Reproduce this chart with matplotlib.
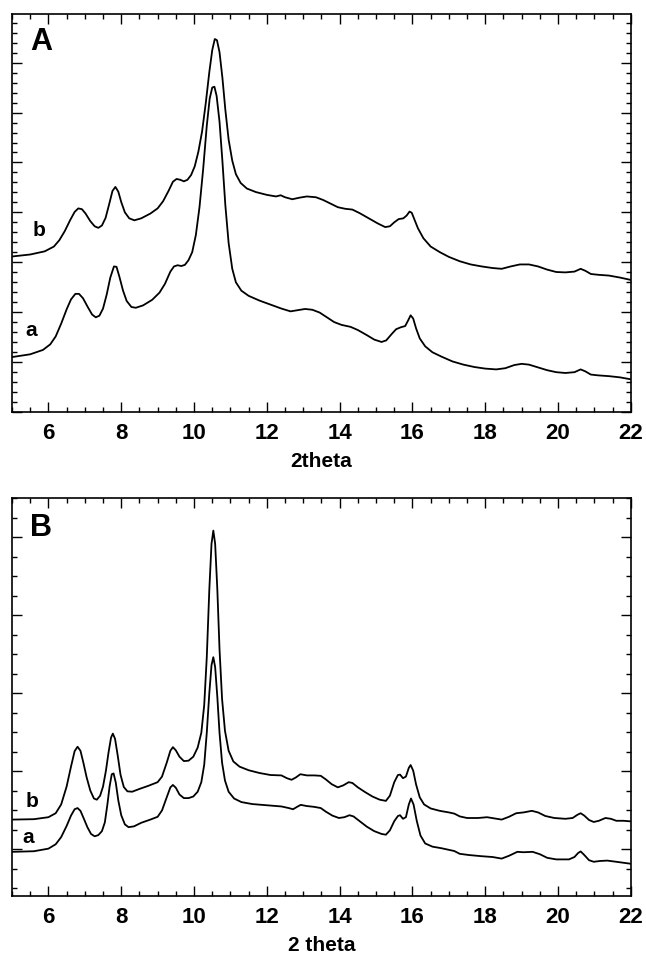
import numpy as np
import matplotlib.pyplot as plt
from matplotlib.ticker import MultipleLocator, FixedLocator

plt.rcParams['font.family'] = ['Liberation Sans', 'DejaVu Sans']
plt.rcParams['font.weight'] = 'bold'

# intensities are read as percent of panel height

# Panel A, trace b (upper)
a_b_x = [5.0, 5.5, 5.9, 6.15, 6.3, 6.45, 6.6, 6.72, 6.82, 6.92, 7.02, 7.15, 7.27, 7.37,
         7.47, 7.57, 7.67, 7.76, 7.84, 7.92, 8.0, 8.1, 8.22, 8.36, 8.55, 8.8, 9.0, 9.15,
         9.3, 9.42, 9.52, 9.62, 9.72, 9.82, 9.92, 10.02, 10.12, 10.22, 10.32, 10.42, 10.5,
         10.57, 10.63, 10.7, 10.78, 10.86, 10.95, 11.05, 11.15, 11.28, 11.45, 11.7, 12.0,
         12.25, 12.38, 12.5, 12.7, 12.9, 13.1, 13.35, 13.55, 13.75, 13.95, 14.15, 14.35,
         14.55, 14.8, 15.05, 15.25, 15.38, 15.5, 15.62, 15.75, 15.84, 15.92, 15.98, 16.05,
         16.15, 16.3, 16.5, 16.75, 17.0, 17.3, 17.6, 17.9, 18.2, 18.45, 18.7, 18.95, 19.2,
         19.45, 19.7, 19.95, 20.2, 20.45, 20.62, 20.75, 20.9, 21.1, 21.4, 21.7, 22.0]
a_b_y = [39.1, 39.6, 40.4, 41.6, 43.2, 45.5, 48.3, 50.3, 51.2, 51.0, 49.9, 48.0, 46.7, 46.3,
         46.9, 48.8, 52.3, 55.6, 56.6, 55.4, 52.8, 50.2, 48.7, 48.2, 48.7, 49.9, 51.2, 53.0,
         55.6, 57.9, 58.6, 58.4, 58.0, 58.4, 59.6, 61.8, 65.5, 70.5, 77.5, 85.5, 91.0,
         93.8, 93.5, 90.5, 84.0, 76.0, 68.5, 63.2, 59.8, 57.6, 56.2, 55.3, 54.6,
         54.2, 54.5, 54.0, 53.5, 53.9, 54.2, 54.0, 53.3, 52.4, 51.5, 51.1, 50.9,
         50.0, 48.7, 47.4, 46.5, 46.7, 47.7, 48.5, 48.7, 49.4, 50.4, 50.1, 48.5,
         46.2, 43.7, 41.6, 40.2, 39.0, 37.9, 37.1, 36.6, 36.2, 36.0, 36.6, 37.1, 37.1,
         36.6, 35.8, 35.2, 35.1, 35.3, 36.0, 35.5, 34.7, 34.5, 34.3, 33.8, 33.2]

# Panel A, trace a (lower)
a_a_x = [5.0, 5.5, 5.85, 6.05, 6.2, 6.35, 6.5, 6.62, 6.74, 6.84, 6.95, 7.08, 7.2, 7.3,
         7.4, 7.5, 7.6, 7.7, 7.8, 7.87, 7.95, 8.05, 8.15, 8.28, 8.4, 8.6, 8.85, 9.05,
         9.2, 9.35, 9.45, 9.55, 9.65, 9.75, 9.85, 9.95, 10.05, 10.15, 10.25, 10.35, 10.43,
         10.5, 10.56, 10.62, 10.7, 10.78, 10.86, 10.95, 11.05, 11.15, 11.3, 11.5, 11.8,
         12.1, 12.4, 12.65, 12.85, 13.05, 13.25, 13.45, 13.65, 13.85, 14.05, 14.3, 14.5,
         14.75, 14.95, 15.15, 15.28, 15.42, 15.55, 15.68, 15.8, 15.88, 15.95, 16.02, 16.1,
         16.2, 16.35, 16.55, 16.8, 17.1, 17.4, 17.7, 18.0, 18.3, 18.55, 18.8, 19.0, 19.2,
         19.45, 19.7, 19.95, 20.2, 20.45, 20.62, 20.75, 20.9, 21.1, 21.4, 21.7, 22.0]
a_a_y = [13.8, 14.5, 15.6, 17.0, 19.0, 22.2, 25.8, 28.3, 29.7, 29.7, 28.6, 26.4, 24.5, 23.8,
         24.2, 26.0, 29.5, 33.8, 36.6, 36.5, 34.0, 30.5, 27.9, 26.4, 26.2, 26.8, 28.2, 30.0,
         32.2, 35.3, 36.6, 36.9, 36.7, 37.0, 38.2, 40.2, 44.5, 51.5, 61.0, 72.0, 78.8,
         81.6, 81.8, 79.5, 73.0, 63.0, 52.0, 42.5, 36.0, 32.6, 30.5, 29.2, 28.0,
         27.0, 26.0, 25.3, 25.6, 25.9, 25.7, 25.0, 23.8, 22.6, 21.9, 21.4, 20.6,
         19.3, 18.2, 17.6, 18.0, 19.5, 20.8, 21.3, 21.6, 23.0, 24.3, 23.5, 21.0,
         18.5, 16.5, 15.0, 13.9, 12.7, 11.9, 11.3, 10.9, 10.7, 11.0, 11.8, 12.1, 11.9,
         11.2, 10.5, 10.0, 9.8, 10.0, 10.7, 10.2, 9.4, 9.2, 9.0, 8.7, 8.2]

# Panel B, trace b (upper)
b_b_x = [5.0, 5.6, 6.0, 6.2, 6.35, 6.5, 6.62, 6.72, 6.8, 6.88, 6.96, 7.05, 7.15, 7.25,
         7.33, 7.42, 7.5, 7.58, 7.65, 7.72, 7.77, 7.83, 7.9, 7.98, 8.07, 8.17, 8.3, 8.5,
         8.75, 9.0, 9.12, 9.25, 9.35, 9.42, 9.5, 9.6, 9.72, 9.85, 9.98, 10.1, 10.2, 10.28,
         10.35, 10.42, 10.48, 10.53, 10.58, 10.64, 10.7, 10.77, 10.85, 10.95, 11.08, 11.25,
         11.5, 11.8, 12.1, 12.4, 12.55, 12.68, 12.8, 12.92, 13.1, 13.3, 13.48, 13.62, 13.78,
         13.95, 14.1, 14.25, 14.35, 14.5, 14.7, 14.9, 15.1, 15.27, 15.38, 15.5, 15.6, 15.66,
         15.74, 15.82, 15.9, 15.95, 16.02, 16.1, 16.2, 16.32, 16.5, 16.75, 17.0, 17.15, 17.3,
         17.5, 17.8, 18.05, 18.25, 18.45, 18.65, 18.85, 19.05, 19.28, 19.45, 19.65, 19.9,
         20.2, 20.4, 20.53, 20.62, 20.72, 20.85, 20.98, 21.12, 21.3, 21.45, 21.6, 21.8, 22.0]
b_b_y = [19.2, 19.3, 19.8, 20.8, 23.0, 27.5, 32.5, 36.4, 37.5, 36.5, 33.5, 29.8, 26.5, 24.5,
         24.2, 25.2, 27.5, 31.5, 36.0, 39.8, 40.8, 39.5, 35.5, 30.5, 27.4, 26.3, 26.2, 26.9,
         27.7, 28.6, 30.0, 33.5, 36.5, 37.4, 36.6, 35.0, 33.9, 34.0, 35.0, 37.3, 41.0, 48.0,
         60.0, 77.0, 88.5, 91.8, 88.5, 77.0, 62.0, 49.5, 41.5, 36.5, 33.8, 32.5,
         31.6, 30.9, 30.4, 30.3, 29.6, 29.2, 29.8, 30.6, 30.3, 30.3, 30.2, 29.3, 28.1,
         27.3, 27.8, 28.6, 28.4, 27.3, 26.1, 25.0, 24.2, 23.9, 25.2, 28.6, 30.4, 30.5,
         29.6, 30.0, 32.2, 32.9, 31.5, 28.0, 24.8, 23.0, 22.0, 21.4, 21.0, 20.7, 20.0,
         19.6, 19.6, 19.8, 19.5, 19.2, 19.9, 20.8, 21.0, 21.4, 21.0, 20.1, 19.6,
         19.4, 19.6, 20.4, 20.8, 20.2, 19.1, 18.6, 18.9, 19.6, 19.4, 18.9, 18.9, 18.75]

# Panel B, trace a (lower)
b_a_x = [5.0, 5.6, 6.0, 6.2, 6.35, 6.5, 6.62, 6.72, 6.8, 6.88, 6.97, 7.07, 7.17, 7.27,
         7.37, 7.47, 7.55, 7.62, 7.68, 7.74, 7.79, 7.85, 7.92, 8.0, 8.1, 8.2, 8.35, 8.55,
         8.8, 9.0, 9.12, 9.25, 9.35, 9.42, 9.5, 9.6, 9.72, 9.85, 9.98, 10.1, 10.2, 10.28,
         10.35, 10.42, 10.48, 10.53, 10.58, 10.64, 10.7, 10.77, 10.85, 10.95, 11.1, 11.3,
         11.6, 12.0, 12.4, 12.6, 12.72, 12.83, 12.93, 13.1, 13.3, 13.48, 13.62, 13.8, 13.98,
         14.13, 14.27, 14.38, 14.55, 14.75, 14.95, 15.15, 15.27, 15.38, 15.5, 15.6, 15.66,
         15.74, 15.82, 15.9, 15.96, 16.03, 16.12, 16.22, 16.35, 16.55, 16.8, 17.0, 17.15,
         17.3, 17.55, 17.9, 18.2, 18.45, 18.65, 18.88, 19.05, 19.3, 19.5, 19.7, 19.95,
         20.3, 20.45, 20.55, 20.62, 20.72, 20.85, 20.98, 21.15, 21.35, 21.6, 22.0]
b_a_y = [11.1, 11.25, 11.9, 13.0, 14.8, 17.6, 20.2, 21.8, 22.1, 21.4, 19.5, 17.3, 15.6, 15.0,
         15.3, 16.3, 18.5, 23.0, 27.5, 30.6, 30.8, 28.5, 24.0, 20.3, 18.0, 17.3, 17.5, 18.4,
         19.2, 19.9, 21.5, 24.8, 27.3, 27.9, 27.2, 25.5, 24.6, 24.6, 25.0, 26.2, 28.6, 33.0,
         41.0, 51.0, 58.0, 60.0, 57.5, 50.0, 41.0, 33.5, 29.0, 26.2, 24.5, 23.6,
         23.1, 22.8, 22.5, 22.1, 21.8, 22.4, 22.9, 22.6, 22.4, 22.1, 21.2, 20.2, 19.6,
         19.8, 20.3, 20.0, 18.8, 17.4, 16.3, 15.6, 15.4, 16.5, 18.8, 20.1, 20.3,
         19.4, 19.8, 23.0, 24.5, 23.0, 18.8, 15.2, 13.2, 12.4, 12.0, 11.6, 11.3,
         10.6, 10.3, 10.0, 9.8, 9.4, 10.1, 11.1, 11.0, 11.1, 10.5, 9.6, 9.2,
         9.2, 9.8, 10.8, 11.2, 10.3, 9.0, 8.6, 8.8, 8.9, 8.6, 8.1]

fig = plt.figure(figsize=(6.46, 9.58), dpi=100)
axA = fig.add_axes([0.0186, 0.570, 0.958, 0.415])
axB = fig.add_axes([0.0186, 0.0647, 0.958, 0.4155])


def style(ax, yticks_major, yticks_minor, xlabel):
    ax.set_xlim(5, 22)
    ax.set_ylim(0, 100)
    ax.xaxis.set_major_locator(MultipleLocator(2))
    ax.xaxis.set_minor_locator(MultipleLocator(0.5))
    ax.yaxis.set_major_locator(FixedLocator(yticks_major))
    ax.yaxis.set_minor_locator(FixedLocator(yticks_minor))
    ax.tick_params(which='both', direction='in', top=True, right=True, width=1.0)
    ax.tick_params(which='major', length=7)
    ax.tick_params(which='minor', length=3.5)
    ax.tick_params(axis='x', labelsize=16, pad=8)
    ax.tick_params(axis='y', labelleft=False)
    for lab in ax.get_xticklabels():
        lab.set_fontweight('bold')
    for s in ax.spines.values():
        s.set_linewidth(1.2)
    ax.set_xlabel(xlabel, fontsize=15, fontweight='bold', labelpad=6)


style(axA, np.arange(0, 100, 12.55), np.arange(0, 100, 2.51), '2theta')
style(axB, np.arange(11.7, 100, 19.6), np.arange(1.9, 100, 4.9), '2 theta')

axA.plot(a_b_x, a_b_y, color='black', lw=1.3)
axA.plot(a_a_x, a_a_y, color='black', lw=1.3)
axB.plot(b_b_x, b_b_y, color='black', lw=1.3)
axB.plot(b_a_x, b_a_y, color='black', lw=1.3)

axA.text(5.8, 93, 'A', fontsize=22, fontweight='bold', ha='center', va='center')
axA.text(5.74, 45.6, 'b', fontsize=15, fontweight='bold', ha='center', va='center')
axA.text(5.54, 20.5, 'a', fontsize=15, fontweight='bold', ha='center', va='center')
axB.text(5.8, 92.5, 'B', fontsize=22, fontweight='bold', ha='center', va='center')
axB.text(5.54, 23.75, 'b', fontsize=15, fontweight='bold', ha='center', va='center')
axB.text(5.45, 14.75, 'a', fontsize=15, fontweight='bold', ha='center', va='center')

fig.savefig('out.png', dpi=100)
